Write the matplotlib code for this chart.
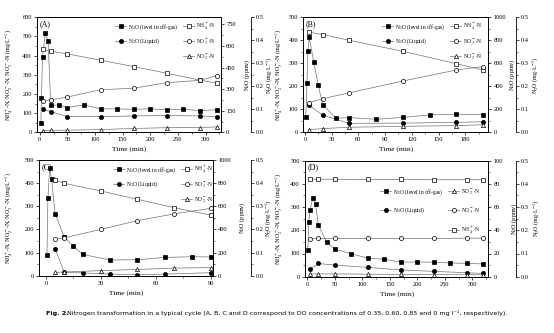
import matplotlib
matplotlib.use('Agg')
import matplotlib.pyplot as plt
from matplotlib.lines import Line2D
from matplotlib.ticker import AutoMinorLocator

plt.rcParams['font.family'] = ['Liberation Serif', 'DejaVu Serif']
plt.rcParams['mathtext.fontset'] = 'stix'
plt.rcParams['axes.linewidth'] = 0.6

# ---- panel A (DO 0.35) ----
a_t_gas = [2, 3, 5, 10, 15, 20, 35, 50, 80, 110, 140, 170, 200, 230, 260, 290, 320]
a_gas = [68, 237, 523, 689, 636, 187, 191, 172, 191, 163, 163, 160, 163, 157, 160, 151, 157]
a_t_liq = [5, 20, 50, 110, 170, 230, 290, 320]
a_liq = [0.102, 0.090, 0.068, 0.068, 0.071, 0.073, 0.071, 0.068]
a_t = [5, 20, 50, 110, 170, 230, 290, 320]
a_nh4 = [434, 423, 409, 376, 343, 308, 272, 257]
a_no3 = [164, 170, 184, 222, 230, 259, 271, 296]
a_no2 = [8, 10, 11, 14, 20, 24, 25, 28]

# ---- panel B (DO 0.60) ----
b_t_gas = [1, 2.5, 3.5, 5, 10, 15, 20, 35, 50, 80, 110, 140, 170, 200]
b_gas = [130, 432, 710, 826, 609, 412, 241, 122, 128, 113, 130, 151, 157, 154]
b_t_liq = [5, 20, 50, 110, 170, 200]
b_liq = [0.117, 0.075, 0.039, 0.040, 0.043, 0.046]
b_t = [5, 20, 50, 110, 170, 200]
b_nh4 = [435, 425, 400, 352, 298, 271]
b_no3 = [129, 146, 172, 223, 271, 286]
b_no2 = [12, 16, 22, 26, 29, 33]

# ---- panel C (DO 0.85) ----
c_t_gas = [0.5, 1, 2, 3, 5, 10, 15, 20, 35, 50, 65, 80, 90]
c_gas = [178, 668, 934, 832, 530, 334, 254, 184, 136, 138, 158, 164, 162]
c_t_liq = [5, 10, 20, 35, 50, 65, 90]
c_liq = [0.114, 0.014, 0.012, 0.007, 0.004, 0.007, 0.013]
c_t = [5, 10, 30, 50, 70, 90]
c_nh4 = [414, 399, 366, 330, 294, 262]
c_no3 = [157, 164, 200, 238, 267, 291]
c_no2 = [14, 16, 22, 27, 33, 35]

# ---- panel D (DO 0) ----
d_t_gas = [1, 2.5, 5, 10, 15, 20, 35, 50, 80, 110, 140, 170, 200, 230, 260, 290, 320]
d_gas = [23, 47, 57.5, 68, 62.6, 44.5, 30, 23.6, 19.8, 16, 15, 12.6, 12.6, 12.6, 11.8, 11.5, 11]
d_t_liq = [5, 20, 50, 110, 170, 230, 290, 320]
d_liq = [0.032, 0.057, 0.050, 0.040, 0.029, 0.023, 0.017, 0.014]
d_t = [5, 20, 50, 110, 170, 230, 290, 320]
d_nh4 = [420, 420, 420, 419, 419, 418, 418, 418]
d_no3 = [164, 165, 165, 165, 165, 165, 166, 166]
d_no2 = [12, 12, 12, 11, 10, 9, 9, 8]

lbl_gas = r'N$_2$O (level in off-gas)'
lbl_liq = r'N$_2$O (Liquid)'
lbl_nh4 = r'NH$_4^+$-N'
lbl_no3 = r'NO$_3^-$-N'
lbl_no2 = r'NO$_2^-$-N'

W, H = 554, 333
fig = plt.figure(figsize=(W / 100, H / 100), dpi=100)

TICK = 4.6
LAB = 5.4
YLAB = 4.4
LINE = '0.45'


def px_rect(x0, y0, x1, y1):
    return [x0 / W, 1 - y1 / H, (x1 - x0) / W, (y1 - y0) / H]


def style_ticks(ax):
    ax.tick_params(axis='both', which='major', labelsize=TICK, length=2.2, width=0.5, pad=1.5, direction='out')
    ax.tick_params(axis='both', which='minor', length=1.2, width=0.4, direction='out')


def draw_panel(box, tag, gas_data, liq_data, n_data, xlim, xticks, ylim, yticks,
               gas_lim, gas_ticks, third_x, label_x, leg_xy, leg_spacing, d_order=False):
    x0, y0, x1, y1 = box
    wpx = x1 - x0
    ax = fig.add_axes(px_rect(x0, y0, x1, y1))
    ax2 = ax.twinx()
    ax3 = ax.twinx()
    ax.set_zorder(3)
    ax.patch.set_visible(False)
    ax2.set_zorder(2)
    ax3.set_zorder(1)

    t_n, nh4, no3, no2 = n_data
    open_kw = dict(color=LINE, lw=0.5, ms=3, mfc='white', mec='black', mew=0.5)
    full_kw = dict(color=LINE, lw=0.5, ms=3, mfc='black', mec='black', mew=0.5)
    h_nh4, = ax.plot(t_n, nh4, marker='s', **open_kw)
    h_no3, = ax.plot(t_n, no3, marker='o', **open_kw)
    h_no2, = ax.plot(t_n, no2, marker='^', **open_kw)
    h_gas, = ax2.plot(gas_data[0], gas_data[1], marker='s', **full_kw)
    h_liq, = ax3.plot(liq_data[0], liq_data[1], marker='o', **full_kw)

    ax.set_xlim(*xlim)
    ax.set_xticks(xticks)
    ax.set_ylim(*ylim)
    ax.set_yticks(yticks)
    ax2.set_ylim(*gas_lim)
    ax2.set_yticks(gas_ticks)
    ax3.set_ylim(0, 0.5)
    ax3.set_yticks([0.0, 0.1, 0.2, 0.3, 0.4, 0.5])
    ax3.set_yticklabels(['0.0', '0.1', '0.2', '0.3', '0.4', '0.5'])
    for a in (ax, ax2):
        a.xaxis.set_minor_locator(AutoMinorLocator(2))
        a.yaxis.set_minor_locator(AutoMinorLocator(2))
    ax3.yaxis.set_minor_locator(AutoMinorLocator(2))
    for a in (ax, ax2, ax3):
        style_ticks(a)
    ax.tick_params(axis='y', which='both', right=False)
    ax.tick_params(axis='x', which='both', top=False)

    ax3.spines['right'].set_position(('axes', (third_x - x0) / wpx))
    for s in ('top', 'left', 'bottom'):
        ax3.spines[s].set_visible(False)

    ax.set_xlabel('Time (min)', fontsize=LAB, labelpad=3)
    ax.set_ylabel(r'NH$_4^+$-N, NO$_2^-$-N, NO$_3^-$-N (mg$\cdot$L$^{-1}$)', fontsize=YLAB)
    ax2.set_ylabel(r'N$_2$O (ppmv)', fontsize=YLAB)
    ax3.set_ylabel(r'N$_2$O (mg$\cdot$L$^{-1}$)', fontsize=YLAB)
    ax.yaxis.set_label_coords((label_x[0] - x0) / wpx, 0.5)
    ax2.yaxis.set_label_coords((label_x[1] - x0) / wpx, 0.5)
    ax3.yaxis.set_label_coords((label_x[2] - x0) / wpx, 0.5)

    ax.text(0.015, 0.975, tag, transform=ax.transAxes, fontsize=LAB + 0.4, va='top', ha='left')

    blank = Line2D([], [], linestyle='none')
    if d_order:
        handles = [h_gas, h_liq, blank, h_no2, h_no3, h_nh4]
        labels = [lbl_gas, lbl_liq, '', lbl_no2, lbl_no3, lbl_nh4]
    else:
        handles = [h_gas, h_liq, blank, h_nh4, h_no3, h_no2]
        labels = [lbl_gas, lbl_liq, '', lbl_nh4, lbl_no3, lbl_no2]
    ax.legend(handles, labels, ncol=2, frameon=False, fontsize=4.0, loc='upper left',
              bbox_to_anchor=(leg_xy[0] / W, 1 - leg_xy[1] / H), bbox_transform=fig.transFigure,
              borderpad=0, borderaxespad=0, handlelength=2.0, handletextpad=0.4,
              columnspacing=0.8, labelspacing=leg_spacing, numpoints=1)
    return ax


draw_panel((37, 17.3, 221, 132.3), '(A)', (a_t_gas, a_gas), (a_t_liq, a_liq),
           (a_t, a_nh4, a_no3, a_no2), (-5, 328), [0, 50, 100, 150, 200, 250, 300],
           (0, 600), [0, 100, 200, 300, 400, 500, 600], (0, 800), [0, 150, 300, 450, 600, 750],
           251, (15, 242, 264), (115, 21), 0.9)

draw_panel((303.3, 17.3, 488.3, 132.3), '(B)', (b_t_gas, b_gas), (b_t_liq, b_liq),
           (b_t, b_nh4, b_no3, b_no2), (-1.7, 205.7), [0, 30, 60, 90, 120, 150, 180],
           (0, 500), [0, 100, 200, 300, 400, 500], (0, 1000), [0, 200, 400, 600, 800, 1000],
           515.7, (285, 507, 530), (382, 21), 0.9)

draw_panel((39.3, 160, 213, 275.7), '(C)', (c_t_gas, c_gas), (c_t_liq, c_liq),
           (c_t, c_nh4, c_no3, c_no2), (-3.7, 91.3), [0, 30, 60, 90],
           (0, 500), [0, 100, 200, 300, 400, 500], (0, 1000), [0, 200, 400, 600, 800, 1000],
           250.7, (15, 237, 263), (113, 164), 0.9)

draw_panel((305, 160.7, 488.3, 276.7), '(D)', (d_t_gas, d_gas), (d_t_liq, d_liq),
           (d_t, d_nh4, d_no3, d_no2), (-4.2, 329), [0, 50, 100, 150, 200, 250, 300],
           (0, 500), [0, 100, 200, 300, 400, 500], (0, 100), [0, 20, 40, 60, 80, 100],
           515.7, (285, 509, 531), (380, 187), 1.6, d_order=True)

fig.text(46 / W, 1 - 313 / H, 'Fig. 2.', fontsize=4.6, fontweight='bold', family='DejaVu Sans',
         va='center', ha='left')
fig.text(67 / W, 1 - 313 / H,
         'Nitrogen transformation in a typical cycle (A, B, C and D correspond to DO concentrations '
         'of 0.35, 0.60, 0.85 and 0 mg l\u207b\u00b9, respectively).',
         fontsize=4.6, family='DejaVu Sans', va='center', ha='left')

fig.savefig('out.png', dpi=100)
